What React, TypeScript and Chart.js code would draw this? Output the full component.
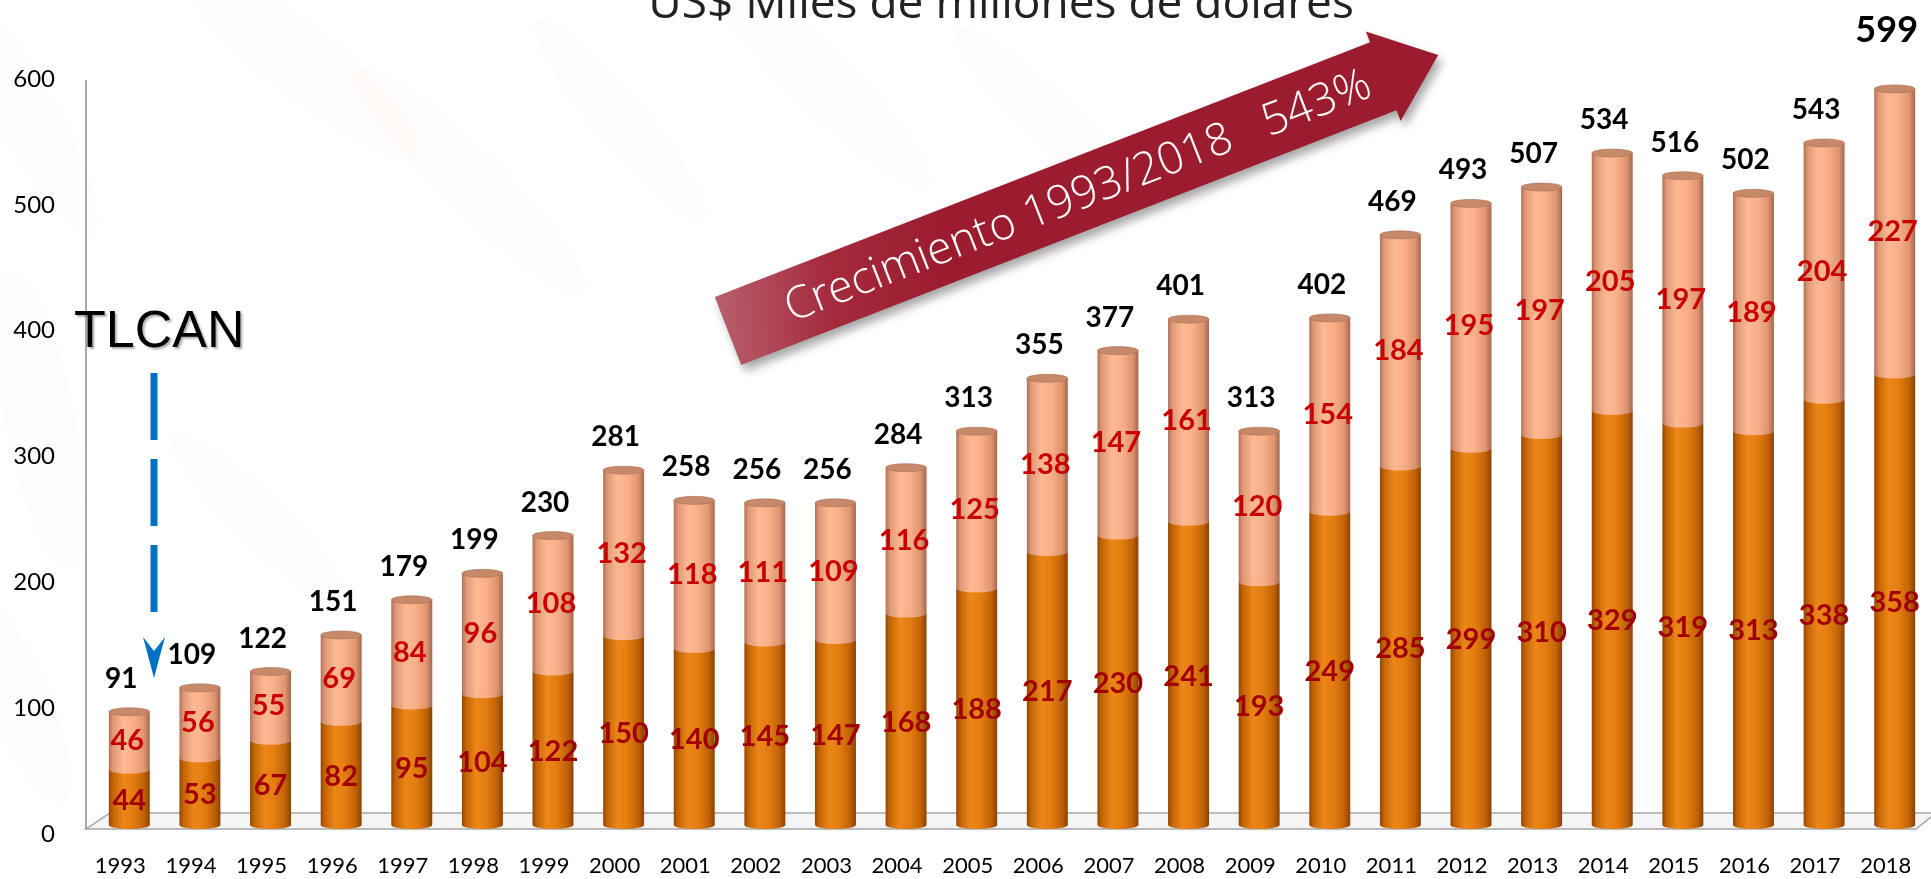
import React, { useEffect, useRef } from 'react';
import { Chart, registerables } from 'chart.js';
Chart.register(...registerables);

const years = ['1993','1994','1995','1996','1997','1998','1999','2000','2001','2002','2003','2004','2005','2006','2007','2008','2009','2010','2011','2012','2013','2014','2015','2016','2017','2018'];
const lowerValues = [44,53,67,82,95,104,122,150,140,145,147,168,188,217,230,241,193,249,285,299,310,329,319,313,338,358];
const upperValues = [46,56,55,69,84,96,108,132,118,111,109,116,125,138,147,161,120,154,184,195,197,205,197,189,204,227];
const totalLabels = [91,109,122,151,179,199,230,281,258,256,256,284,313,355,377,401,313,402,469,493,507,534,516,502,543,599];
const yTicks = [0,100,200,300,400,500,600];
const titleText = 'US$ Miles de millones de dólares';
const arrowText = 'Crecimiento 1993/2018   543%';
const tlcanText = 'TLCAN';

const orangeStops: [number, string][] = [[0,'#934600'],[0.1,'#c26406'],[0.35,'#ec8618'],[0.6,'#e47d10'],[0.86,'#bf6106'],[1,'#8a4200']];
const salmonStops: [number, string][] = [[0,'#b07056'],[0.1,'#de9875'],[0.35,'#fdb993'],[0.6,'#f9af89'],[0.86,'#dd946f'],[1,'#a5684e']];

function cylGrad(ctx: CanvasRenderingContext2D, x0: number, x1: number, stops: [number, string][]) {
  const g = ctx.createLinearGradient(x0, 0, x1, 0);
  stops.forEach(([o, c]) => g.addColorStop(o, c));
  return g;
}

const BAR_PCT = 0.58;

function scriptFill(stops: [number, string][], fallback: string) {
  return (c: any) => {
    const chart = c.chart;
    const xs = chart.scales && chart.scales.x;
    if (!xs || c.dataIndex === undefined || !chart.chartArea) return fallback;
    const cx = xs.getPixelForValue(c.dataIndex);
    const w = (xs.width / years.length) * BAR_PCT;
    return cylGrad(chart.ctx, cx - w / 2, cx + w / 2, stops);
  };
}

const decor = {
  id: 'decor',
  beforeDatasetsDraw(chart: any) {
    const { ctx, chartArea: a, scales: { y } } = chart;
    const y0 = y.getPixelForValue(0);
    ctx.save();
    ctx.fillStyle = 'rgba(236, 214, 184, 0.07)';
    const blobs = [
      [30, 120, 60, 260, -0.5], [40, 420, 70, 300, -0.2], [20, 700, 60, 220, -0.4],
      [300, 60, 70, 300, -0.9], [470, 180, 60, 320, -0.8], [620, 120, 50, 260, -0.7],
      [820, 80, 60, 300, -0.8], [1050, 120, 50, 260, -0.8], [260, 520, 50, 240, -0.8],
    ];
    blobs.forEach(([bx, by, bw, bh, rot]) => {
      ctx.save();
      ctx.translate(bx, by);
      ctx.rotate(rot);
      ctx.beginPath();
      ctx.ellipse(0, 0, bw / 2, bh / 2, 0, 0, Math.PI * 2);
      ctx.fill();
      ctx.restore();
    });
    const fy = y0 + 4, by = y0 - 12;
    ctx.beginPath();
    ctx.moveTo(a.left - 8, fy);
    ctx.lineTo(a.right - 14, fy);
    ctx.lineTo(a.right + 6, by);
    ctx.lineTo(a.left + 16, by);
    ctx.closePath();
    ctx.fillStyle = '#f5f5f5';
    ctx.fill();
    ctx.strokeStyle = '#a6a6a6';
    ctx.lineWidth = 1.5;
    ctx.stroke();
    ctx.restore();
  },
  afterDatasetsDraw(chart: any) {
    const { ctx, chartArea: a, scales: { x, y } } = chart;
    const y0 = y.getPixelForValue(0);
    const meta = chart.getDatasetMeta(0);
    ctx.save();
    const ry = 4;
    years.forEach((_, i) => {
      const el = meta.data[i];
      const cx = el.x;
      const rx = el.width / 2;
      const yb = y.getPixelForValue(lowerValues[i]);
      const yt = y.getPixelForValue(lowerValues[i] + upperValues[i]);
      ctx.beginPath();
      ctx.ellipse(cx, y0, rx, ry, 0, 0, Math.PI);
      ctx.fillStyle = cylGrad(ctx, cx - rx, cx + rx, orangeStops);
      ctx.fill();
      ctx.beginPath();
      ctx.ellipse(cx, yb, rx, ry, 0, 0, Math.PI);
      ctx.fillStyle = cylGrad(ctx, cx - rx, cx + rx, salmonStops);
      ctx.fill();
      ctx.beginPath();
      ctx.ellipse(cx, yt, rx, ry, 0, 0, Math.PI * 2);
      ctx.fillStyle = '#c68969';
      ctx.fill();
      ctx.strokeStyle = 'rgba(170,110,85,0.6)';
      ctx.lineWidth = 1;
      ctx.stroke();
    });

    ctx.textAlign = 'center';
    ctx.textBaseline = 'middle';
    years.forEach((_, i) => {
      const cx = meta.data[i].x;
      const yb = y.getPixelForValue(lowerValues[i]);
      const yt = y.getPixelForValue(lowerValues[i] + upperValues[i]);
      ctx.font = 'bold 29px Lato';
      ctx.fillStyle = '#a00000';
      ctx.fillText(String(lowerValues[i]), cx, (y0 + yb) / 2 + 3);
      ctx.fillStyle = '#c80000';
      ctx.fillText(String(upperValues[i]), cx - 2, (yb + yt) / 2);
      const last = i === years.length - 1;
      ctx.font = last ? 'bold 36px Lato' : 'bold 28px Lato';
      ctx.fillStyle = '#000';
      ctx.fillText(String(totalLabels[i]), cx - 8, yt - (last ? 58 : 33));
    });

    ctx.strokeStyle = '#8c8c8c';
    ctx.lineWidth = 1.5;
    ctx.beginPath();
    ctx.moveTo(a.left - 8, y.getPixelForValue(600) + 10);
    ctx.lineTo(a.left - 8, y0 + 4);
    ctx.stroke();

    ctx.font = '24px Lato';
    ctx.fillStyle = '#000';
    ctx.textAlign = 'right';
    yTicks.forEach((v) => {
      ctx.fillText(String(v), a.left - 39, y.getPixelForValue(v) + 9);
    });
    ctx.font = '22px Lato';
    ctx.textAlign = 'center';
    years.forEach((yr, i) => {
      ctx.fillText(yr, x.getPixelForValue(i) - 9, y0 + 41);
    });

    ctx.font = '46px "Open Sans"';
    ctx.fillStyle = '#222';
    ctx.textBaseline = 'alphabetic';
    ctx.fillText(titleText, 1001, 18);

    ctx.save();
    ctx.translate(728, 331);
    ctx.rotate(Math.atan2(-276, 710));
    const L = 762, bh = 36.5, hl = 59, hh = 48;
    ctx.beginPath();
    ctx.moveTo(0, -bh);
    ctx.lineTo(L - hl, -bh);
    ctx.lineTo(L - hl, -hh);
    ctx.lineTo(L, 0);
    ctx.lineTo(L - hl, hh);
    ctx.lineTo(L - hl, bh);
    ctx.lineTo(0, bh);
    ctx.closePath();
    const ag = ctx.createLinearGradient(0, -bh, 220, bh);
    ag.addColorStop(0, '#b8606d');
    ag.addColorStop(0.5, '#a42a3c');
    ag.addColorStop(1, '#9c1c2f');
    ctx.fillStyle = ag;
    ctx.shadowColor = 'rgba(0,0,0,0.35)';
    ctx.shadowBlur = 10;
    ctx.shadowOffsetX = 4;
    ctx.shadowOffsetY = 6;
    ctx.fill();
    ctx.shadowColor = 'transparent';
    ctx.fillStyle = '#ffffff';
    ctx.font = '300 45px "Open Sans"';
    ctx.textAlign = 'center';
    ctx.textBaseline = 'middle';
    ctx.fillText(arrowText, 375, 2);
    ctx.restore();

    ctx.save();
    ctx.font = '52px "Liberation Sans"';
    ctx.fillStyle = '#000';
    ctx.textAlign = 'left';
    ctx.textBaseline = 'middle';
    ctx.shadowColor = 'rgba(0,0,0,0.3)';
    ctx.shadowOffsetX = 2;
    ctx.shadowOffsetY = 2;
    ctx.shadowBlur = 2;
    ctx.fillText(tlcanText, 74, 333);
    ctx.restore();

    ctx.save();
    ctx.strokeStyle = '#0070c0';
    ctx.lineWidth = 7;
    ctx.setLineDash([67, 19]);
    ctx.beginPath();
    ctx.moveTo(154, 373);
    ctx.lineTo(154, 612);
    ctx.stroke();
    ctx.setLineDash([]);
    ctx.fillStyle = '#0070c0';
    ctx.beginPath();
    ctx.moveTo(154, 678);
    ctx.lineTo(143, 637);
    ctx.lineTo(154, 651);
    ctx.lineTo(165, 637);
    ctx.closePath();
    ctx.fill();
    ctx.restore();

    ctx.restore();
  },
};

export default function App() {
  const ref = useRef<HTMLCanvasElement>(null);
  useEffect(() => {
    const canvas = ref.current!;
    const chart = new Chart(canvas, {
      type: 'bar',
      data: {
        labels: years,
        datasets: [
          {
            label: 'lower',
            data: lowerValues,
            backgroundColor: scriptFill(orangeStops, '#e07b10') as any,
            borderWidth: 0,
            barPercentage: BAR_PCT,
            categoryPercentage: 1,
          },
          {
            label: 'upper',
            data: upperValues,
            backgroundColor: scriptFill(salmonStops, '#fbb08a') as any,
            borderWidth: 0,
            barPercentage: BAR_PCT,
            categoryPercentage: 1,
          },
        ],
      },
      options: {
        animation: false,
        responsive: false,
        layout: { padding: { left: 94, right: 1, top: 70, bottom: 54 } },
        plugins: {
          legend: { display: false },
          tooltip: { enabled: false },
          title: { display: false },
        },
        scales: {
          x: { stacked: true, display: false },
          y: { stacked: true, display: false, min: 0, max: 600 },
        },
      },
      plugins: [decor],
    });
    return () => chart.destroy();
  }, []);
  return (
    <div style={{ position: 'absolute', left: 0, top: 0, width: 1931, height: 879, background: '#fff' }}>
      <canvas ref={ref} width={1931} height={879} style={{ display: 'block', width: 1931, height: 879 }} />
    </div>
  );
}
